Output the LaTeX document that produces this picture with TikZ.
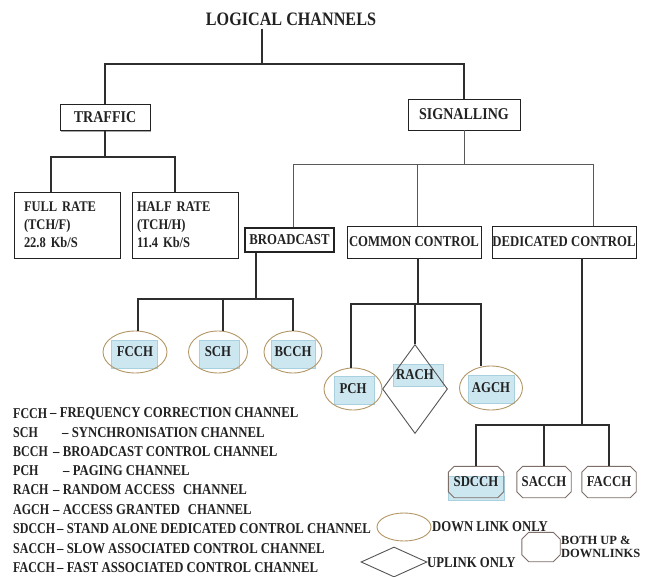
\documentclass[tikz,border=0pt]{standalone}
\usepackage{fontspec}
\setmainfont{Liberation Serif}
\newfontfamily\cnd{Liberation Serif}[FakeStretch=0.85]
\newfontfamily\legfont{Liberation Serif}[FakeStretch=0.85]
\newfontfamily\abbrfont{Liberation Serif}[FakeStretch=0.8]
\newfontfamily\plainserif{Liberation Serif}
\usetikzlibrary{shapes.geometric,shadows,calc}

\definecolor{inkgray}{HTML}{222222}
\definecolor{ovalline}{HTML}{B39766}
\definecolor{octline}{HTML}{7E6E68}
\definecolor{diamline}{HTML}{555555}
\definecolor{tagblue}{HTML}{CDE7F1}
\definecolor{tagedge}{HTML}{A9D0DE}

% outline with cut corners around a rectangular node
\newcommand\cutcorners[2][6]{%
  \draw[draw=octline, line width=0.9pt]
    ($(#2.north west)+(#1,0)$) -- ($(#2.north east)+(-#1,0)$) --
    ($(#2.north east)+(0,#1)$) -- ($(#2.south east)+(0,-#1)$) --
    ($(#2.south east)+(-#1,0)$) -- ($(#2.south west)+(#1,0)$) --
    ($(#2.south west)+(0,-#1)$) -- ($(#2.north west)+(0,#1)$) -- cycle;}

\begin{document}
\begin{tikzpicture}[x=1pt,y=-1pt,
  link/.style={draw=black!82, line width=1.1pt},
  thinlink/.style={draw=black!65, line width=0.8pt},
  box/.style={draw=inkgray, line width=0.9pt, fill=white, inner sep=0pt,
    text=inkgray, font=\cnd\fontsize{15}{18}\selectfont\bfseries,
    drop shadow={shadow xshift=0.9pt, shadow yshift=-1.1pt, fill=black!35, opacity=1}},
  bigbox/.style={box, font=\cnd\fontsize{16.5}{19}\selectfont\bfseries},
  ratebox/.style={box, align=left, text width=86pt,
    font=\cnd\fontsize{14.7}{18}\selectfont\bfseries},
  tag/.style={fill=tagblue, draw=tagedge, line width=0.6pt, inner sep=0pt},
  oval/.style={ellipse, draw=ovalline, line width=0.9pt, inner sep=0pt,
    text=inkgray, font=\cnd\fontsize{15}{18}\selectfont\bfseries},
  octa/.style={rectangle, inner sep=0pt,
    text=inkgray, font=\cnd\fontsize{15}{18}\selectfont\bfseries},
  diam/.style={diamond, draw=diamline, line width=0.9pt, inner sep=0pt},
  chan/.style={text=inkgray, inner sep=0pt, font=\cnd\fontsize{15}{18}\selectfont\bfseries},
  abbr/.style={anchor=west, inner sep=0pt, text=inkgray,
    font=\abbrfont\fontsize{15}{18}\selectfont\bfseries},
  legend/.style={anchor=west, inner sep=0pt, text=inkgray,
    font=\legfont\fontsize{15}{18}\selectfont\bfseries}
]
\useasboundingbox (0,0) rectangle (645,577);
\fill[white] (0,0) rectangle (645,577);

% ---------- top of the tree ----------
\node[text=inkgray, inner sep=3pt, font=\cnd\fontsize{19}{22}\selectfont\bfseries]
  (root) at (291,19) {LOGICAL CHANNELS};
\node[bigbox, minimum width=90pt, minimum height=26pt] (traffic) at (105,117.5) {TRAFFIC};
\node[bigbox, minimum width=112pt, minimum height=31pt] (signalling) at (464,114.5) {SIGNALLING};

\coordinate (rootbus) at (262,64);
\draw[link] (rootbus |- root.south) -- (rootbus);
\draw[link] (traffic.north) |- (rootbus) -| (signalling.north);

% ---------- traffic channels ----------
\node[ratebox, inner xsep=9pt, minimum width=106pt, minimum height=66pt]
  (fullrate) at (67,225) {FULL RATE\\(TCH/F)\\22.8 Kb/S};
\node[ratebox, inner xsep=5pt, text width=96pt, minimum width=106pt, minimum height=66pt]
  (halfrate) at (185,225) {HALF RATE\\(TCH/H)\\11.4 Kb/S};

\coordinate (tbusL) at (51,157);
\coordinate (tbusR) at (175,157);
\draw[link] (traffic.south) -- (traffic.south |- tbusL);
\draw[link] (tbusL |- fullrate.north) -- (tbusL) -- (tbusR) -- (tbusR |- halfrate.north);

% ---------- signalling groups ----------
\node[box, line width=1.6pt, minimum width=89pt, minimum height=24pt] (broadcast) at (289.5,240) {BROADCAST};
\node[box, minimum width=134pt, minimum height=32pt] (common) at (414,242) {COMMON CONTROL};
\node[box, minimum width=144pt, minimum height=32pt] (dedicated) at (564,242) {DEDICATED CONTROL};

\coordinate (sbusL) at (293,164);
\coordinate (sbusM) at (417,164);
\coordinate (sbusR) at (593,164);
\draw[thinlink] (signalling.south) -- (signalling.south |- sbusL);
\draw[thinlink] (sbusL |- broadcast.north) -- (sbusL) -- (sbusR) -- (sbusR |- dedicated.north);
\draw[thinlink] (sbusM) -- (sbusM |- common.north);

% ---------- broadcast channels ----------
\node[tag, minimum width=46pt, minimum height=28pt] at (134,354) {};
\node[tag, minimum width=40pt, minimum height=28pt] at (219,354) {};
\node[tag, minimum width=44pt, minimum height=28pt] at (293,354) {};
\node[oval, minimum width=64pt, minimum height=42pt] (fcch) at (135,352) {FCCH};
\node[oval, minimum width=59pt, minimum height=42pt] (sch) at (218,352) {SCH};
\node[oval, minimum width=58pt, minimum height=42pt] (bcch) at (293,352) {BCCH};

\coordinate (bbus) at (256,299);
\coordinate (bbusL) at (138,299);
\coordinate (bbusM) at (223,299);
\draw[link] (broadcast.south -| bbus) -- (bbus);
\draw[link] (bbusL |- fcch.north) -- (bbusL) -- (bbus) -| (bcch.north);
\draw[link] (bbusM) -- (bbusM |- sch.north);

% ---------- common control channels ----------
\node[tag, minimum width=40pt, minimum height=28pt] at (354,390) {};
\node[tag, minimum width=50pt, minimum height=22pt] at (418,375) {};
\node[tag, minimum width=46pt, minimum height=28pt] at (491,389) {};
\node[oval, minimum width=58pt, minimum height=42pt] (pch) at (353,389) {PCH};
\node[diam, minimum width=65pt, minimum height=89pt] (rach) at (415,389) {};
\node[chan] (rachtext) at (415,375) {RACH};
\node[oval, minimum width=63pt, minimum height=44pt] (agch) at (491,388) {AGCH};

\coordinate (cbusL) at (351,304);
\coordinate (cbusM) at (418,304);
\coordinate (cbusR) at (481,304);
\draw[link] (common.south -| cbusM) -- (cbusM);
\draw[link] (cbusL |- pch.north) -- (cbusL) -- (cbusR) -- (cbusR |- agch.north);
\draw[link] (rach.north) -- (rach.north |- cbusM);

% ---------- dedicated control channels ----------
\node[tag, minimum width=56pt, minimum height=24pt] at (476,488) {};
\node[octa, minimum width=55pt, minimum height=31pt] (sdcch) at (476,482) {SDCCH};
\node[octa, minimum width=54pt, minimum height=31pt] (sacch) at (544,482) {SACCH};
\node[octa, minimum width=54pt, minimum height=31pt] (facch) at (609,482) {FACCH};
\cutcorners{sdcch}
\cutcorners{sacch}
\cutcorners{facch}

\coordinate (dbus) at (582,425);
\draw[link] (dedicated.south -| dbus) -- (dbus);
\draw[link] (sdcch.north) |- (dbus) -| (facch.north);
\draw[link] (sacch.north) -- (sacch.north |- dbus);

% ---------- abbreviations ----------
\node[abbr] (lfcch)  at (13,414) {FCCH};  \node[legend] at (50,414) {– FREQUENCY CORRECTION CHANNEL};
\node[abbr] (lsch)   at (13,433) {SCH};   \node[legend] at (62,433) {– SYNCHRONISATION CHANNEL};
\node[abbr] (lbcch)  at (13,452) {BCCH};  \node[legend] at (53,452) {– BROADCAST CONTROL CHANNEL};
\node[abbr] (lpch)   at (13,471) {PCH};   \node[legend] at (63,471) {– PAGING CHANNEL};
\node[abbr] (lrach)  at (13,490) {RACH};  \node[legend] at (53,490) {– RANDOM ACCESS\hspace{8pt}CHANNEL};
\node[abbr] (lagch)  at (13,510) {AGCH};  \node[legend] at (53,510) {– ACCESS GRANTED\hspace{8pt}CHANNEL};
\node[abbr] (lsdcch) at (13,529) {SDCCH}; \node[legend] at (57,529) {– STAND ALONE DEDICATED CONTROL CHANNEL};
\node[abbr] (lsacch) at (13,549) {SACCH}; \node[legend] at (57,549) {– SLOW ASSOCIATED CONTROL CHANNEL};
\node[abbr] (lfacch) at (13,568) {FACCH}; \node[legend] at (57,568) {– FAST ASSOCIATED CONTROL CHANNEL};

% ---------- shape key ----------
\node[oval, minimum width=54pt, minimum height=28pt] (keyoval) at (404,527) {};
\node[legend] at (432,527) {DOWN LINK ONLY};
\node[diam, minimum width=66pt, minimum height=30pt] (keydiam) at (394,562) {};
\node[legend] at (427,563) {UPLINK ONLY};
\node[octa, minimum width=38pt, minimum height=29pt] (keyocta) at (541,547) {};
\cutcorners[7]{keyocta}
\node[anchor=west, inner sep=0pt, text=inkgray, align=left,
  font=\plainserif\fontsize{12.5}{13.5}\selectfont\bfseries] at (561,547) {BOTH UP \&\\DOWNLINKS};
\end{tikzpicture}
\end{document}
